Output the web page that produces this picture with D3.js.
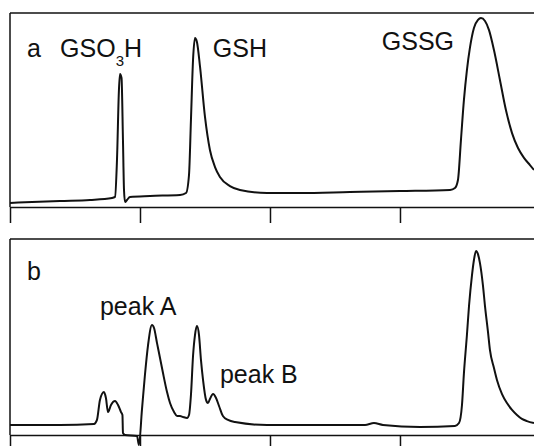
<!DOCTYPE html>
<html>
<head>
<meta charset="utf-8">
<script src="https://cdn.jsdelivr.net/npm/d3@7"></script>
<style>
  body { margin: 0; background: #fff; }
  text { font-family: "Liberation Sans", Arial, sans-serif; fill: #111; }
</style>
</head>
<body>
<svg id="chart" width="534" height="446"></svg>
<script>
// retention time ticks (arbitrary units) and the two traces, [time, signal]
const timeTicks = [0, 1, 2, 3];

const traceA = [
  [0, 2.1], [0.385, 3.1], [0.615, 3.6], [0.785, 4.6], [0.808, 5.2], [0.823, 24.2],
  [0.838, 60.3], [0.846, 68.6], [0.858, 66.5], [0.869, 34.5], [0.877, 8.8], [0.885, 2.6],
  [0.9, 3.6], [0.923, 5.2], [1.077, 5.7], [1.308, 6.2], [1.354, 7.2], [1.377, 16.5],
  [1.392, 44.8], [1.408, 75.8], [1.423, 87.1], [1.438, 85.1], [1.462, 72.2], [1.5, 46.4],
  [1.538, 29.4], [1.577, 20.6], [1.615, 15.5], [1.692, 10.8], [1.769, 8.8], [1.977, 7.2],
  [2.231, 7.2], [2.615, 7.7], [3.0, 8.2], [3.385, 8.8], [3.423, 9.8], [3.446, 13.9],
  [3.469, 34.5], [3.492, 55.2], [3.515, 70.6], [3.538, 82.0], [3.569, 92.3], [3.6, 96.4],
  [3.623, 97.4], [3.654, 95.9], [3.685, 91.2], [3.723, 80.9], [3.769, 65.5], [3.815, 50.0],
  [3.862, 38.1], [3.908, 30.4], [3.954, 25.3], [4.0, 21.6], [4.031, 19.1]
];

const traceB = [
  [0, 5.1], [0.385, 5.1], [0.646, 5.6], [0.669, 7.7], [0.692, 17.9], [0.723, 21.9],
  [0.738, 18.9], [0.754, 11.7], [0.777, 15.3], [0.808, 17.3], [0.831, 15.3], [0.854, 11.7],
  [0.865, 10.2], [0.869, 1.0], [0.885, 0], [0.977, -0.5], [0.992, -5.1], [1.015, 12.8],
  [1.038, 30.6], [1.062, 45.9], [1.092, 56.1], [1.108, 54.6], [1.131, 46.9], [1.154, 39.3],
  [1.177, 31.6], [1.208, 21.9], [1.231, 16.3], [1.262, 11.7], [1.285, 9.7], [1.308, 9.7],
  [1.331, 9.2], [1.362, 8.7], [1.377, 10.2], [1.392, 20.4], [1.408, 40.3], [1.423, 51.0],
  [1.438, 55.6], [1.454, 51.0], [1.469, 38.3], [1.485, 28.1], [1.508, 17.9], [1.523, 16.3],
  [1.538, 18.4], [1.562, 20.9], [1.585, 18.9], [1.608, 14.8], [1.638, 9.7], [1.677, 7.7],
  [1.731, 6.6], [1.977, 5.1], [2.462, 5.1], [2.731, 5.1], [2.8, 6.1], [2.869, 5.1],
  [3.154, 4.1], [3.423, 4.6], [3.454, 6.1], [3.477, 15.3], [3.492, 31.6], [3.515, 51.0],
  [3.531, 65.8], [3.554, 81.6], [3.569, 89.3], [3.585, 93.9], [3.6, 92.3], [3.615, 87.8],
  [3.638, 76.5], [3.654, 65.8], [3.677, 52.6], [3.692, 43.4], [3.723, 34.2], [3.746, 28.1],
  [3.785, 20.9], [3.823, 16.3], [3.862, 12.8], [3.9, 10.2], [3.938, 8.2], [3.977, 7.1],
  [4.031, 6.1]
];

const svg = d3.select("#chart");
const x = d3.scaleLinear().domain([0, 4.031]).range([10, 534]);

function drawPanel(data, top, bottom, tickLen){
  const y = d3.scaleLinear().domain([0, 100]).range([bottom, top]);
  const g = svg.append("g");

  // top border
  g.append("line")
    .attr("x1", x(0)).attr("x2", 534)
    .attr("y1", top).attr("y2", top)
    .attr("stroke", "#111").attr("stroke-width", 1.5);

  // left border
  g.append("line")
    .attr("x1", x(0)).attr("x2", x(0))
    .attr("y1", top).attr("y2", bottom)
    .attr("stroke", "#111").attr("stroke-width", 1.5);

  // bottom axis, ticks hang below
  const axis = g.append("g")
    .attr("transform", `translate(0,${bottom})`)
    .call(d3.axisBottom(x).tickValues(timeTicks).tickSize(tickLen).tickSizeOuter(0).tickFormat(""));
  axis.select(".domain").attr("stroke", "#111").attr("stroke-width", 1.5);
  axis.selectAll(".tick line").attr("stroke", "#111").attr("stroke-width", 1.5);

  const line = d3.line()
    .x(d => x(d[0]))
    .y(d => y(d[1]))
    .curve(d3.curveMonotoneX);

  g.append("path")
    .datum(data)
    .attr("d", line)
    .attr("fill", "none")
    .attr("stroke", "#111")
    .attr("stroke-width", 2)
    .attr("stroke-linejoin", "round");

  return {g, y};
}

const pa = drawPanel(traceA, 13, 207, 16);
const pb = drawPanel(traceB, 239, 435, 14);

function label(p, t, v, txt){
  return p.g.append("text")
    .attr("x", x(t)).attr("y", p.y(v))
    .attr("font-size", 25)
    .text(txt);
}

label(pa, 0.13, 77.3, "a");
const gso = pa.g.append("text")
  .attr("x", x(0.385)).attr("y", pa.y(77.3))
  .attr("font-size", 25);
gso.append("tspan").text("GSO");
gso.append("tspan").attr("font-size", 15).attr("dy", 9).text("3");
gso.append("tspan").attr("dy", -9).text("H");
label(pa, 1.56, 77.3, "GSH");
label(pa, 2.86, 80.9, "GSSG");

label(pb, 0.13, 79.1, "b");
label(pb, 0.692, 61.2, "peak A");
label(pb, 1.615, 26.5, "peak B");
</script>
</body>
</html>
